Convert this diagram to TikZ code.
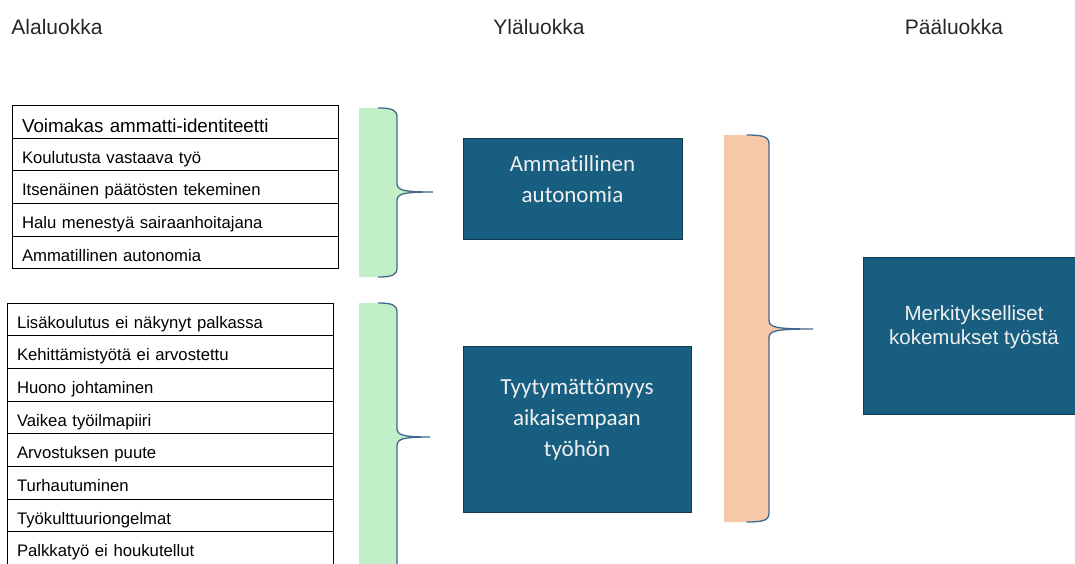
\documentclass[tikz,border=0pt]{standalone}
\usepackage{fontspec}
\setmainfont{Liberation Sans}
\newfontfamily\calibri[Ligatures=NoCommon]{Carlito}
\usetikzlibrary{positioning}
\definecolor{laatikko}{HTML}{175E80}
\definecolor{reuna}{HTML}{0F3A50}
\definecolor{vihrea}{HTML}{C1F0C8}
\definecolor{oranssi}{HTML}{F6C7A9}
\definecolor{sulku}{HTML}{41698F}
% haka: vasen, oikea, yla, ala, karki x, karki y, vari
\newcommand{\haka}[7]{%
\fill[#7] (#1,#3) -- ({(#1+#2)/2},#3) .. controls ({#2-5},#3) and (#2,{#3+2}) .. (#2,{#3+9})
  -- (#2,{#6-9}) .. controls (#2,{#6-2}) and ({#2+5},#6) .. (#5,#6)
  .. controls ({#2+5},#6) and (#2,{#6+2}) .. (#2,{#6+9})
  -- (#2,{#4-9}) .. controls (#2,{#4-2}) and ({#2-5},#4) .. ({(#1+#2)/2},#4) -- (#1,#4) -- cycle;
\draw[sulkuviiva] ({(#1+#2)/2},#3) .. controls ({#2-5},#3) and (#2,{#3+2}) .. (#2,{#3+9})
  -- (#2,{#6-9}) .. controls (#2,{#6-2}) and ({#2+5},#6) .. (#5,#6)
  .. controls ({#2+5},#6) and (#2,{#6+2}) .. (#2,{#6+9})
  -- (#2,{#4-9}) .. controls (#2,{#4-2}) and ({#2-5},#4) .. ({(#1+#2)/2},#4);}

\begin{document}
\begin{tikzpicture}[x=1pt,y=-1pt,
  otsikko/.style={font=\fontsize{21}{25}\selectfont, text=black!85},
  rivi/.style={draw, line width=1pt, text width=306pt, inner xsep=10pt, inner ysep=0pt,
    minimum height=32.7pt, text height=25pt, text depth=7.7pt, outer sep=0pt,
    align=left, font=\fontsize{16.7}{20}\selectfont},
  sulkuviiva/.style={draw=sulku, line width=1.3pt},
  laatikko/.style={draw=reuna, line width=0.8pt, fill=laatikko, inner sep=0pt},
  laatikkoteksti/.style={text=white!94!black, align=center, font=\calibri\fontsize{23}{31}\selectfont}]
\useasboundingbox (0,0) rectangle (1075,563);
\clip (0,0) rectangle (1075,563);
% otsikot
\node[otsikko] (ala) at (57,27) {Alaluokka};
\node[otsikko] (yla) at (539,27) {Yläluokka};
\node[otsikko] (paa) at (954,27) {Pääluokka};
% alaluokat 1
\node[rivi, anchor=north west, text depth=6pt, text height=27pt, font=\fontsize{18.8}{22}\selectfont] (r1) at (12,105) {Voimakas ammatti-identiteetti};
\node[rivi, below=0pt of r1] (r2) {Koulutusta vastaava työ};
\node[rivi, below=0pt of r2] (r3) {Itsenäinen päätösten tekeminen};
\node[rivi, below=0pt of r3] (r4) {Halu menestyä sairaanhoitajana};
\node[rivi, below=0pt of r4] (r5) {Ammatillinen autonomia};
% alaluokat 2
\node[rivi, anchor=north west] (s1) at (7,303) {Lisäkoulutus ei näkynyt palkassa};
\node[rivi, below=0pt of s1] (s2) {Kehittämistyötä ei arvostettu};
\node[rivi, below=0pt of s2] (s3) {Huono johtaminen};
\node[rivi, below=0pt of s3] (s4) {Vaikea työilmapiiri};
\node[rivi, below=0pt of s4] (s5) {Arvostuksen puute};
\node[rivi, below=0pt of s5] (s6) {Turhautuminen};
\node[rivi, below=0pt of s6] (s7) {Työkulttuuriongelmat};
\node[rivi, below=0pt of s7] (s8) {Palkkatyö ei houkutellut};
% sulut
\haka{359}{397}{108}{277}{433}{192}{vihrea}
\haka{359}{397}{303}{571}{430}{437}{vihrea}
\haka{724}{769}{135}{522}{813}{329}{oranssi}
% yläluokat
\node[laatikko, minimum width=219pt, minimum height=101pt] (autonomia) at (572.5,188.5) {};
\node[laatikkoteksti] (autonomiat) at ([yshift=9pt]autonomia.center) {Ammatillinen\\autonomia};
\node[laatikko, minimum width=228pt, minimum height=166pt] (tyyty) at (577,429) {};
\node[laatikkoteksti] (tyytyt) at ([yshift=9pt]tyyty.center) {Tyytymättömyys\\aikaisempaan\\työhön};
% pääluokka
\node[laatikko, minimum width=222pt, minimum height=157pt] (merk) at (974,335.5) {};
\node[text=white!94!black, align=center, font=\fontsize{20.5}{24}\selectfont] (merkt) at ([yshift=8.5pt]merk.center) {Merkitykselliset\\kokemukset työstä};
\end{tikzpicture}
\end{document}
